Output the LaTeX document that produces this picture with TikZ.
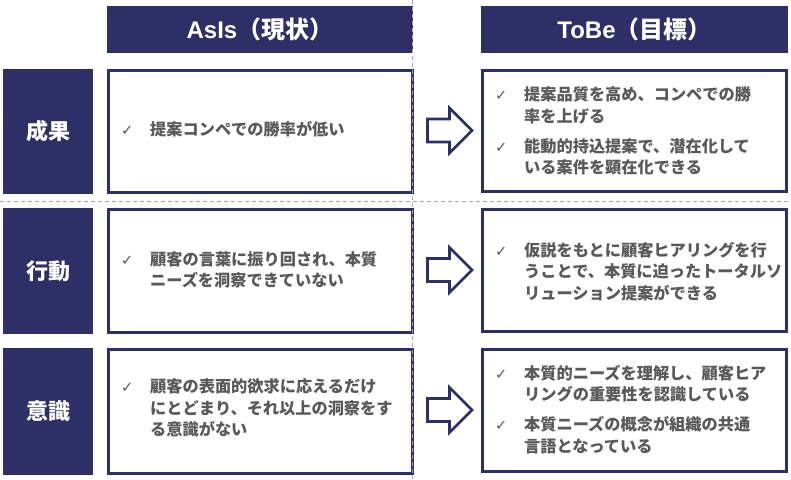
\documentclass[tikz,border=0pt]{standalone}
\usepackage{fontspec}
\setmainfont{Liberation Sans}
\newfontfamily\jp{Noto Sans CJK JP}
\newfontfamily\symf{DejaVu Sans}
\definecolor{navy}{HTML}{2E2F66}
\definecolor{txtgray}{HTML}{595959}
\definecolor{dashgray}{HTML}{A6A6A6}
\newcommand{\ck}{\makebox[29pt][l]{\symf\mdseries\fontsize{14.5}{14.5}\selectfont ✓}}
\begin{document}
\begin{tikzpicture}[x=1pt,y=-1pt,
  hdr/.style={fill=navy, text=white, minimum width=306pt, minimum height=47pt, inner sep=0pt, font=\bfseries\fontsize{24}{24}\selectfont},
  lbl/.style={fill=navy, text=white, minimum width=90pt, inner sep=0pt, font=\jp\bfseries\fontsize{22}{22}\selectfont},
  cbox/.style={draw=navy, line width=3pt, fill=white, minimum width=304pt, inner sep=0pt},
  btxt/.style={text=txtgray, inner sep=0pt, anchor=west, align=left, font=\jp\bfseries\fontsize{16.2}{21.5}\selectfont},
  sepline/.style={draw=dashgray, line width=1pt, dash pattern=on 4pt off 3pt},
  barrow/.style={draw=navy, line width=2.6pt, fill=white, line join=miter}
]
\useasboundingbox (0,0) rectangle (791,479);
\fill[white] (0,0) rectangle (791,479);

% headers
\node[hdr] (hAs) at (260,29.5) {AsIs{\jp（現状）}};
\node[hdr, minimum width=307pt] (hTo) at (634.5,29.5) {ToBe{\jp（目標）}};

% row labels
\node[lbl, minimum height=125pt] (l1) at (48,131.5) {成果};
\node[lbl, minimum height=126pt] (l2) at (48,271) {行動};
\node[lbl, minimum height=127pt] (l3) at (48,411.5) {意識};

% AsIs boxes
\node[cbox, minimum height=122pt] (a1) at (260.5,131.6) {};
\node[cbox, minimum height=123pt] (a2) at (260.5,270.5) {};
\node[cbox, minimum height=124pt] (a3) at (260.5,411.5) {};

% ToBe boxes
\node[cbox, minimum height=121pt] (b1) at (634.5,131.3) {};
\node[cbox, minimum height=122pt] (b2) at (634.5,270.5) {};
\node[cbox, minimum height=122pt] (b3) at (634.5,410.5) {};

% texts AsIs
\node[btxt] (ta1) at (121,131.5) {\begin{tabular}{@{}l@{}l@{}}\ck&提案コンペでの勝率が低い\end{tabular}};
\node[btxt] (ta2) at (121,271.5) {\begin{tabular}{@{}l@{}l@{}}\ck&顧客の言葉に振り回され、本質\\&ニーズを洞察できていない\end{tabular}};
\node[btxt] (ta3) at (121,410) {\begin{tabular}{@{}l@{}l@{}}\ck&顧客の表面的欲求に応えるだけ\\&にとどまり、それ以上の洞察をす\\&る意識がない\end{tabular}};

% texts ToBe
\node[btxt] (tb1) at (495,133) {\begin{tabular}{@{}l@{}l@{}}\ck&提案品質を高め、コンペでの勝\\&率を上げる\\[8.5pt]\ck&能動的持込提案で、潜在化して\\&いる案件を顕在化できる\end{tabular}};
\node[btxt] (tb2) at (495,273.5) {\begin{tabular}{@{}l@{}l@{}}\ck&仮説をもとに顧客ヒアリングを行\\&うことで、本質に迫ったトータルソ\\&リューション提案ができる\end{tabular}};
\node[btxt] (tb3) at (495,411.5) {\begin{tabular}{@{}l@{}l@{}}\ck&本質的ニーズを理解し、顧客ヒア\\&リングの重要性を認識している\\[8.5pt]\ck&本質ニーズの概念が組織の共通\\&言語となっている\end{tabular}};

% block arrows
\foreach \n/\cy in {1/130.5,2/270,3/410}{
  \coordinate (ar\n) at (427.5,\cy);
  \draw[barrow] (ar\n) ++(0,-11.5) -- ++(22,0) -- ++(0,-11) -- (472,\cy) -- (449.5,\cy+22.5) -- ++(0,-11) -- ++(-22,0) -- cycle;
}

% dashed separators
\coordinate (vt) at (412.3,0);
\coordinate (vb) at (412.3,479);
\coordinate (hl) at (0,201.3);
\coordinate (hr) at (791,201.3);
\draw[sepline] (vt) -- (vb);
\draw[sepline] (hl) -- (hr);
\end{tikzpicture}
\end{document}
